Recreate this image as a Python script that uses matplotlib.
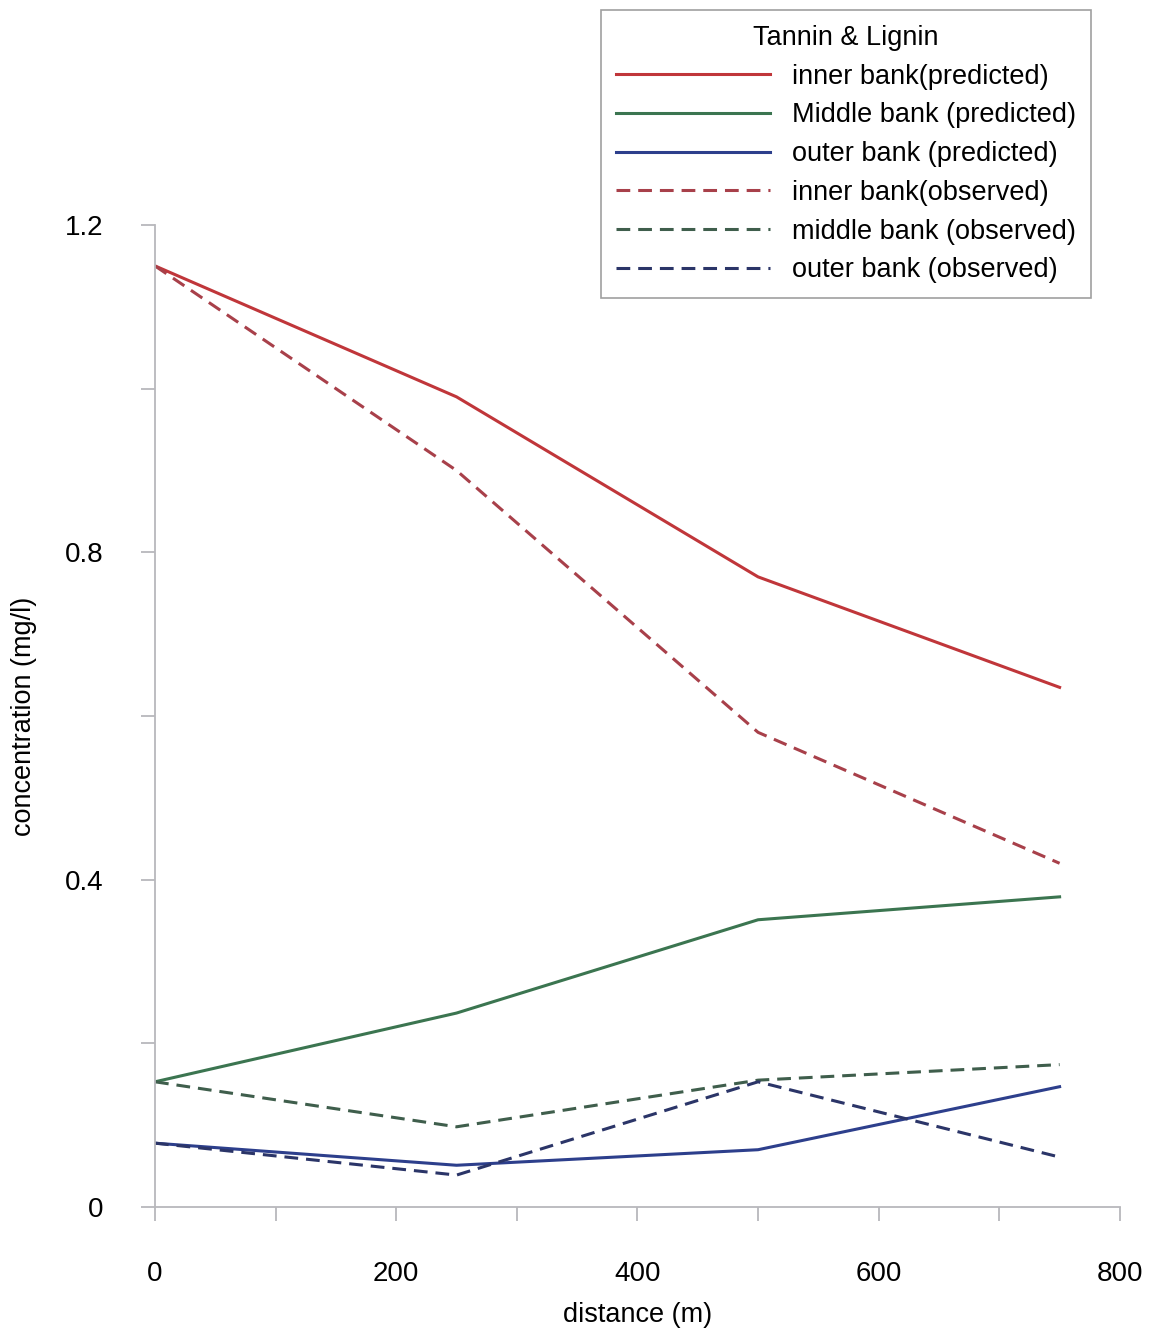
import matplotlib.pyplot as plt
from matplotlib.ticker import MultipleLocator

plt.rcParams['font.family'] = ['Liberation Sans', 'DejaVu Sans']

# distance along the river (m)
distance = [0, 250, 500, 750]

# Tannin & Lignin concentration (mg/l)
inner_pred = [1.15, 0.99, 0.77, 0.635]
middle_pred = [0.153, 0.237, 0.351, 0.379]
outer_pred = [0.078, 0.051, 0.070, 0.147]
inner_obs = [1.15, 0.90, 0.58, 0.42]
middle_obs = [0.153, 0.098, 0.155, 0.174]
outer_obs = [0.078, 0.039, 0.153, 0.061]

y_ticks = [0, 0.4, 0.8, 1.2]
y_labels = ['0', '0.4', '0.8', '1.2']
x_ticks = [0, 200, 400, 600, 800]

red = '#c0363a'
green = '#3b7550'
blue = '#2d3f8c'
red_d = '#a8404a'
green_d = '#3f5e4c'
blue_d = '#2b3568'
grey = '#b8b8bc'

fig = plt.figure(figsize=(11.69, 13.29), dpi=100)
ax = fig.add_axes([0.1326, 0.0918, 0.8254, 0.7389])

lw = 2.2
dash = (0, (4.5, 2.6))
ax.plot(distance, inner_pred, color=red, lw=lw, label='inner bank(predicted)')
ax.plot(distance, middle_pred, color=green, lw=lw, label='Middle bank (predicted)')
ax.plot(distance, outer_pred, color=blue, lw=lw, label='outer bank (predicted)')
ax.plot(distance, inner_obs, color=red_d, lw=lw, ls=dash, label='inner bank(observed)')
ax.plot(distance, middle_obs, color=green_d, lw=lw, ls=dash, label='middle bank (observed)')
ax.plot(distance, outer_obs, color=blue_d, lw=lw, ls=dash, label='outer bank (observed)')

ax.set_xlim(0, 800)
ax.set_ylim(0, 1.2)
ax.set_yticks(y_ticks)
ax.set_yticklabels(y_labels)
ax.set_xticks(x_ticks)
ax.yaxis.set_minor_locator(MultipleLocator(0.2))
ax.xaxis.set_minor_locator(MultipleLocator(100))

for side in ['top', 'right']:
    ax.spines[side].set_visible(False)
for side in ['left', 'bottom']:
    ax.spines[side].set_color(grey)
    ax.spines[side].set_linewidth(1.3)

ax.tick_params(axis='both', which='both', direction='out', length=10, width=1.3,
               color=grey, labelsize=20)
ax.tick_params(axis='y', which='major', pad=27)
ax.tick_params(axis='x', which='major', pad=29)

ax.set_xlabel('distance (m)', fontsize=19.5, labelpad=11)
ax.set_ylabel('concentration (mg/l)', fontsize=19.5, labelpad=20)

leg = fig.legend(loc='upper left', bbox_to_anchor=(0.514, 0.9925), borderaxespad=0,
                 fontsize=19.5, title='Tannin & Lignin', title_fontsize=19.5,
                 handlelength=5.7, handletextpad=0.8, labelspacing=0.47, borderpad=0.55,
                 fancybox=False, framealpha=1, edgecolor='#a0a0a0')
leg.get_frame().set_linewidth(1.2)

fig.savefig('out.png', dpi=100)
